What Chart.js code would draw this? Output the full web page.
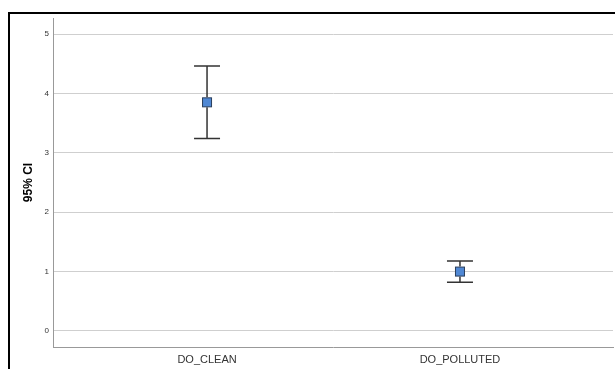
<!DOCTYPE html>
<html><head><meta charset="utf-8">
<script src="https://cdn.jsdelivr.net/npm/chart.js@4.4.0/dist/chart.umd.min.js"></script>
<style>
html,body{margin:0;padding:0;background:#fff;}
#wrap{position:relative;width:615px;height:369px;}
#frame{position:absolute;left:8px;top:12px;right:0;bottom:-4px;border-top:2px solid #000;border-left:2px solid #000;pointer-events:none;}
canvas{position:absolute;left:0;top:0;}
</style></head><body>
<div id="wrap"><canvas id="c" width="615" height="369"></canvas><div id="frame"></div></div>
<script>
const categories = ["DO_CLEAN", "DO_POLLUTED"];
const means = [3.85, 1.00];
const lowerCI = [3.24, 0.82];
const upperCI = [4.46, 1.18];
const yTicks = [0, 1, 2, 3, 4, 5];

const points = categories.map((c, i) => ({x: i + 1, y: means[i]}));

const errorBars = {
  id: 'errorBars',
  afterDatasetsDraw(chart) {
    const ctx = chart.ctx, xs = chart.scales.x, ys = chart.scales.y;
    ctx.save();
    categories.forEach((c, i) => {
      const px = xs.getPixelForValue(i + 1);
      const pl = ys.getPixelForValue(lowerCI[i]);
      const pu = ys.getPixelForValue(upperCI[i]);
      const pm = ys.getPixelForValue(means[i]);
      ctx.strokeStyle = '#333';
      ctx.lineWidth = 1.5;
      ctx.beginPath();
      ctx.moveTo(px, pu); ctx.lineTo(px, pm - 5);
      ctx.moveTo(px, pm + 5); ctx.lineTo(px, pl);
      ctx.moveTo(px - 13, pu); ctx.lineTo(px + 13, pu);
      ctx.moveTo(px - 13, pl); ctx.lineTo(px + 13, pl);
      ctx.stroke();
      ctx.fillStyle = '#5088d4';
      ctx.strokeStyle = '#2b3f5c';
      ctx.lineWidth = 1;
      ctx.fillRect(px - 4.5, pm - 4.5, 9, 9);
      ctx.strokeRect(px - 4.5, pm - 4.5, 9, 9);
    });
    ctx.restore();
  }
};

new Chart(document.getElementById('c'), {
  type: 'scatter',
  data: { datasets: [{ data: points, pointRadius: 0, showLine: false }] },
  options: {
    responsive: false, animation: false,
    layout: { padding: { top: 18, right: 2, left: 0, bottom: 0 } },
    plugins: { legend: { display: false }, tooltip: { enabled: false } },
    scales: {
      x: {
        type: 'linear', min: 0.391, max: 2.605,
        afterBuildTicks(s) { s.ticks = categories.map((c, i) => ({value: i + 1})); },
        afterFit(s) { s.height = 22; },
        ticks: { callback: (v) => categories[v - 1] ?? '', color: '#333', font: { family: 'Liberation Sans', size: 11 }, padding: 6, maxRotation: 0 },
        grid: { display: false, drawTicks: false },
        border: { color: '#999', width: 1 }
      },
      y: {
        min: -0.27, max: 5.27,
        afterBuildTicks(s) { s.ticks = yTicks.map(v => ({value: v})); },
        afterFit(s) { s.width = 53; },
        ticks: { color: '#333', font: { family: 'Liberation Sans', size: 8 }, padding: 4 },
        grid: { color: '#cfcfcf', drawTicks: false, lineWidth: 1 },
        border: { color: '#999', width: 1 },
        title: { display: true, text: '95% CI', color: '#000', font: { family: 'Liberation Sans', size: 12, weight: 'bold' }, padding: { top: 21, bottom: 0 } }
      }
    }
  },
  plugins: [errorBars]
});
</script>
</body></html>
